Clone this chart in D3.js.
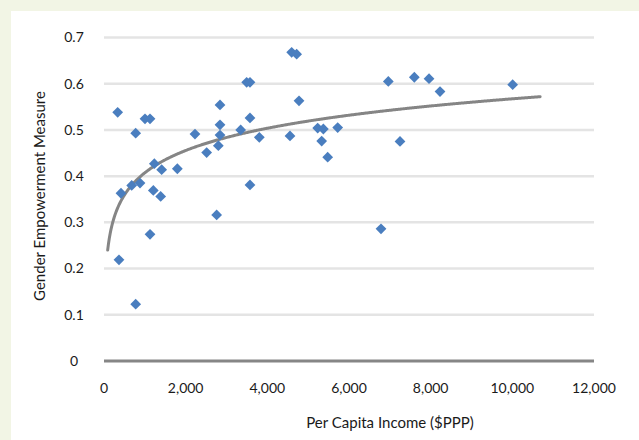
<!DOCTYPE html>
<html>
<head>
<meta charset="utf-8">
<script src="https://cdn.jsdelivr.net/npm/d3@7"></script>
<style>
  html, body { margin: 0; padding: 0; background: #f2f5e5; }
  svg { display: block; }
  text { font-family: Lato, "Open Sans", sans-serif; fill: #1a1a1a; }
</style>
</head>
<body>
<svg id="chart" width="639" height="440"></svg>
<script>
// Per-capita income ($PPP) and Gender Empowerment Measure, one entry per country
const income = [335, 367, 416, 678, 776, 776, 882, 1004, 1127, 1127, 1208, 1233, 1388, 1412,
  1796, 2228, 2514, 2759, 2800, 2841, 2841, 2841, 3347, 3494, 3575, 3575, 3575, 3804,
  4555, 4596, 4718, 4776, 5233, 5372, 5331, 5478, 5723, 6784, 6963, 7249, 7600, 7960,
  8229, 10008];
const gem = [0.538, 0.219, 0.363, 0.380, 0.493, 0.123, 0.385, 0.524, 0.524, 0.274, 0.369,
  0.427, 0.356, 0.414, 0.416, 0.491, 0.451, 0.316, 0.466, 0.489, 0.511, 0.554, 0.500,
  0.603, 0.603, 0.526, 0.381, 0.484, 0.487, 0.668, 0.664, 0.563, 0.504, 0.502, 0.476,
  0.441, 0.505, 0.286, 0.605, 0.475, 0.614, 0.611, 0.583, 0.598];

// Axis ticks
const xTicks = [0, 2000, 4000, 6000, 8000, 10000, 12000];
const yTicks = [0, 0.1, 0.2, 0.3, 0.4, 0.5, 0.6, 0.7];

// Logarithmic trend: gem = a * ln(income) + b, drawn over this income span
const trendCoef = [0.0695, -0.0728];
const trendSpan = [90, 10680];

const svg = d3.select("#chart");

// white panel inside the tinted frame
svg.append("rect").attr("x", 11).attr("y", 11).attr("width", 628).attr("height", 429)
  .attr("fill", "#ffffff");

const x = d3.scaleLinear().domain([0, 12000]).range([104, 594]);
const y = d3.scaleLinear().domain([0, 0.7]).range([361, 37.5]);

// horizontal gridlines
svg.append("g").selectAll("line")
  .data(yTicks.filter(d => d > 0))
  .join("line")
  .attr("x1", x(0)).attr("x2", x(12000))
  .attr("y1", d => y(d)).attr("y2", d => y(d))
  .attr("stroke", "#e4e4e4").attr("stroke-width", 2.5);

// horizontal axis line
svg.append("line")
  .attr("x1", x(0)).attr("x2", x(12000))
  .attr("y1", y(0)).attr("y2", y(0))
  .attr("stroke", "#868686").attr("stroke-width", 3);

// y tick labels
svg.append("g").selectAll("text")
  .data(yTicks)
  .join("text")
  .attr("x", 74).attr("y", d => y(d))
  .attr("dy", "0.35em")
  .attr("text-anchor", "middle")
  .attr("font-size", 14)
  .text(d => d === 0 ? "0" : d3.format(".1f")(d));

// x tick labels
svg.append("g").selectAll("text")
  .data(xTicks)
  .join("text")
  .attr("x", d => x(d)).attr("y", 393)
  .attr("text-anchor", "middle")
  .attr("font-size", 14)
  .text(d => d3.format(",")(d));

// axis titles
svg.append("text")
  .attr("x", 390).attr("y", 428)
  .attr("text-anchor", "middle")
  .attr("font-size", 15)
  .text("Per Capita Income ($PPP)");

svg.append("text")
  .attr("transform", "translate(45,196) rotate(-90)")
  .attr("text-anchor", "middle")
  .attr("font-size", 15)
  .text("Gender Empowerment Measure");

// trend curve
const trendX = d3.range(trendSpan[0], trendSpan[1], 20).concat([trendSpan[1]]);
const line = d3.line()
  .x(d => x(d))
  .y(d => y(trendCoef[0] * Math.log(d) + trendCoef[1]));
svg.append("path")
  .attr("d", line(trendX))
  .attr("fill", "none")
  .attr("stroke", "#858585")
  .attr("stroke-width", 3)
  .attr("stroke-linecap", "round");

// data markers (diamonds)
const diamond = d3.symbol().type(d3.symbolDiamond2).size(60);
svg.append("g").selectAll("path")
  .data(income.map((v, i) => [v, gem[i]]))
  .join("path")
  .attr("transform", d => `translate(${x(d[0])},${y(d[1])}) rotate(45)`)
  .attr("d", d3.symbol().type(d3.symbolSquare).size(58))
  .attr("fill", "#4a7ebf");
</script>
</body>
</html>
